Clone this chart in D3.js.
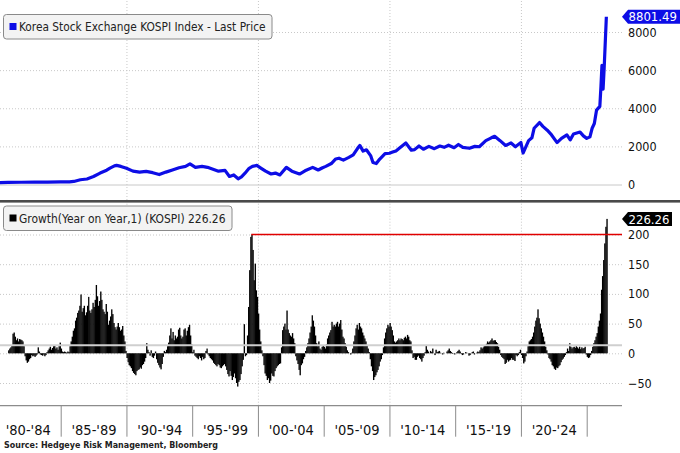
<!DOCTYPE html>
<html>
<head>
<meta charset="utf-8">
<script src="https://cdn.jsdelivr.net/npm/d3@7"></script>
<style>
  body { margin: 0; background: #fff; }
  svg { display: block; font-family: "DejaVu Sans Condensed", "DejaVu Sans", sans-serif; }
</style>
</head>
<body>
<script>
(function (d3) {
  "use strict";

  /***** Data *****/
  // KOSPI last price, [month, value]
  var kospiPrice = [
    ["1980-01", 100], ["1981-01", 108], ["1982-01", 118], ["1983-01", 122], ["1984-01", 125],
    ["1985-01", 140], ["1985-09", 138], ["1986-01", 160], ["1986-07", 250], ["1987-01", 290],
    ["1987-07", 420], ["1988-01", 600], ["1988-07", 750], ["1988-10", 860], ["1989-02", 980],
    ["1989-04", 1005], ["1989-08", 950], ["1990-01", 850], ["1990-07", 700], ["1991-01", 650],
    ["1991-07", 690], ["1992-01", 620], ["1992-07", 520], ["1993-01", 650], ["1993-07", 760],
    ["1994-01", 880], ["1994-07", 950], ["1994-11", 1080], ["1995-04", 900], ["1995-10", 950],
    ["1996-03", 900], ["1996-08", 800], ["1997-01", 700], ["1997-07", 740], ["1997-11", 420],
    ["1998-03", 500], ["1998-07", 300], ["1998-10", 400], ["1999-01", 580], ["1999-05", 850],
    ["1999-08", 950], ["1999-12", 1000], ["2000-04", 850], ["2000-08", 700], ["2001-01", 550],
    ["2001-05", 600], ["2001-09", 500], ["2002-03", 900], ["2002-08", 700], ["2003-03", 550],
    ["2003-08", 720], ["2004-03", 900], ["2004-08", 760], ["2004-12", 880], ["2005-03", 950],
    ["2005-08", 1100], ["2005-12", 1340], ["2006-03", 1380], ["2006-07", 1280], ["2006-12", 1420],
    ["2007-04", 1550], ["2007-08", 1900], ["2007-10", 2050], ["2008-01", 1750], ["2008-04", 1820],
    ["2008-08", 1500], ["2008-10", 1150], ["2009-01", 1100], ["2009-04", 1320], ["2009-09", 1620],
    ["2010-01", 1640], ["2010-04", 1700], ["2010-07", 1760], ["2010-10", 1900], ["2011-04", 2180],
    ["2011-09", 1800], ["2011-12", 1830], ["2012-04", 2020], ["2012-08", 1850], ["2013-01", 2000],
    ["2013-06", 1880], ["2013-11", 2020], ["2014-03", 1950], ["2014-07", 2060], ["2014-12", 1930],
    ["2015-04", 2100], ["2015-08", 1950], ["2016-02", 1900], ["2016-07", 2000], ["2016-11", 1980],
    ["2017-05", 2300], ["2017-10", 2450], ["2018-01", 2530], ["2018-06", 2300], ["2018-11", 2050],
    ["2019-04", 2180], ["2019-08", 1980], ["2020-01", 2200], ["2020-03", 1650], ["2020-08", 2300],
    ["2020-11", 2450], ["2021-01", 2950], ["2021-06", 3250], ["2021-09", 3050], ["2022-01", 2850],
    ["2022-05", 2600], ["2022-10", 2200], ["2023-02", 2420], ["2023-07", 2600], ["2023-10", 2340],
    ["2024-01", 2650], ["2024-07", 2750], ["2024-10", 2550], ["2025-01", 2420], ["2025-04", 2500],
    ["2025-06", 2950], ["2025-08", 3200], ["2025-10", 3900], ["2026-01", 4100], ["2026-02", 5150],
    ["2026-03", 6250], ["2026-04", 5000], ["2026-05", 6100], ["2026-07", 8801.49]
  ];

  // Growth (year on year, %), monthly from Jan 1981, one row per year
  var growthStart = "1981-01";
  var growthRows = [
    [5, 8, 10, 14, 33, 35, 28, 22, 25, 20, 24, 23],          // 1981
    [22, 20, 12, -5, -12, -16, -14, -10, -8, -3, -5, -4],
    [-6, -4, -2, 10, 3, -2, -3, -4, -2, -5, -3, 2],
    [5, 8, 11, 6, 9, 12, 14, 8, 10, 6, 12, 18],
    [8, 3, 2, 3, 2, 1, 3, 2, 12, 20, 28, 38],                // 1985
    [42, 55, 60, 68, 72, 80, 99, 70, 76, 80, 64, 69],
    [80, 95, 72, 68, 74, 85, 78, 90, 115, 96, 80, 88],
    [104, 90, 74, 70, 66, 83, 70, 48, 55, 62, 74, 66],
    [51, 44, 40, 45, 51, 44, 38, 40, 46, 30, 20, 4],
    [-8, -15, -20, -22, -25, -30, -33, -35, -37, -30, -28, -27], // 1990
    [-24, -26, -20, -18, -14, -8, 17, 6, 2, -4, 5, -6],
    [-8, -4, 3, -10, -16, -20, -24, -27, -18, -6, 4, 2],
    [6, 12, 18, 30, 42, 25, 36, 22, 30, 25, 28, 40],
    [43, 30, 25, 28, 40, 42, 30, 38, 44, 48, 30, 15],
    [2, 6, -4, -6, -8, -10, -5, -8, -12, -6, -10, -8],       // 1995
    [4, 8, -2, -5, -8, -10, -12, -16, -18, -20, -22, -18],
    [-20, -24, -25, -22, -20, -18, -22, -28, -35, -39, -30, -38],
    [-45, -40, -34, -42, -50, -56, -48, -45, -35, -22, -11, 49],
    [-5, -3, 30, 78, 140, 196, 200, 174, 123, 151, 106, 95],
    [67, 40, 20, 5, -5, -20, -34, -38, -45, -42, -50, -46],  // 2000
    [-34, -38, -39, -30, -25, -22, -20, -18, -17, 10, 39, 45],
    [50, 40, 72, 40, 34, 30, 28, 34, 25, 17, -5, -12],
    [-18, -28, -37, -20, -17, -10, -6, 4, 10, 17, 25, 35],
    [45, 64, 55, 45, 30, 17, 12, 20, 8, 6, 11, 14],
    [11, 8, 15, 25, 30, 35, 39, 53, 45, 48, 45, 50],         // 2005
    [53, 45, 50, 56, 40, 28, 25, 17, 11, 5, 2, 0],
    [-2, 1, 8, 20, 30, 42, 48, 40, 51, 45, 42, 35],
    [30, 25, 20, 14, 8, 2, -10, -22, -30, -45, -40, -37],
    [-32, -28, -22, -14, -10, -3, 10, 25, 35, 42, 48, 45],
    [51, 45, 39, 30, 20, 18, 20, 22, 25, 22, 25, 24],        // 2010
    [22, 26, 28, 25, 31, 28, 22, 20, 5, -8, -6, -11],
    [-11, -6, -4, -8, -10, -14, -8, -4, 2, 14, 6, 3],
    [0, 4, 2, 8, 0, -3, 6, 2, 3, 4, 1, 0],
    [-2, 1, 0, 0, 3, 5, 8, 4, 2, -1, 0, -2],
    [0, 2, 4, 6, 3, -1, -3, -2, 0, 2, 1, 0],                 // 2015
    [-4, -3, 0, 2, 3, -2, 0, 1, 3, 2, 5, 10],
    [8, 10, 12, 14, 16, 20, 18, 20, 22, 25, 21, 22],
    [22, 19, 17, 11, 6, -3, -6, -8, -10, -18, -16, -11],
    [-14, -12, -11, -8, -11, -11, -13, -3, -5, -3, 2, 6],
    [-3, -8, -17, -14, -5, 3, 12, 20, 22, 24, 28, 35],       // 2020
    [45, 55, 60, 74, 59, 50, 42, 35, 28, 20, 11, 5],
    [-2, -8, -10, -14, -20, -22, -26, -28, -24, -25, -22, -20],
    [-15, -11, -9, -6, -3, 2, 8, 4, 17, 11, 8, 10],
    [11, 9, 12, 10, 8, 11, 7, 10, 8, 9, 11, -2],
    [-6, -8, -7, -3, 4, 11, 17, 22, 28, 34, 45, 55],         // 2025
    [67, 107, 130, 157, 185, 213, 226.26]
  ];

  var growthAverage = 13.5;
  var growthHigh = 200;
  var growthHighFrom = "1999-07";

  var priceTicks = [0, 2000, 4000, 6000, 8000];
  var growthTicks = [-50, 0, 50, 100, 150, 200];
  var gridYears = [1990, 2000, 2010, 2020];
  var periodStarts = [1980, 1985, 1990, 1995, 2000, 2005, 2010, 2015, 2020, 2025];
  var periodLabels = ["'80-'84", "'85-'89", "'90-'94", "'95-'99", "'00-'04",
                      "'05-'09", "'10-'14", "'15-'19", "'20-'24"];

  var priceLegend = "Korea Stock Exchange KOSPI Index - Last Price";
  var growthLegend = "Growth(Year on Year,1) (KOSPI) 226.26";
  var sourceText = "Source: Hedgeye Risk Management, Bloomberg";

  /***** Configuration *****/
  var width = 680, height = 453;
  var plotRight = 622;
  var topPanel = { top: 0, bottom: 200 };
  var botPanel = { top: 203, bottom: 405.7 };
  var blue = "#0d0de6";

  var parseMonth = d3.timeParse("%Y-%m");
  var yearDate = function (y) { return new Date(y, 0, 1); };

  var priceData = kospiPrice.map(function (p) { return { date: parseMonth(p[0]), value: p[1] }; });
  var growthData = [];
  var g0 = parseMonth(growthStart);
  growthRows.forEach(function (row) {
    row.forEach(function (v) {
      growthData.push({ date: d3.timeMonth.offset(g0, growthData.length), value: v });
    });
  });

  /***** Scales *****/
  var x = d3.scaleTime().domain([yearDate(1985), yearDate(2025)]).range([60.7, 586.7]);
  var yTop = d3.scaleLinear().domain([0, 8000]).range([184.5, 32]);
  var yBot = d3.scaleLinear().domain([-50, 200]).range([383, 234.5]);

  var svg = d3.select("body").append("svg")
      .attr("width", width)
      .attr("height", height);

  svg.append("rect").attr("width", width).attr("height", height).attr("fill", "#fff");

  /***** Grid *****/
  function vGrid(panel) {
    svg.append("g")
        .attr("transform", "translate(0," + panel.bottom + ")")
        .call(d3.axisBottom(x).tickValues(gridYears.map(yearDate))
          .tickSize(-(panel.bottom - panel.top)).tickFormat(""))
        .call(function (g) { g.select(".domain").remove(); })
        .selectAll("line")
        .attr("stroke", "#c8c8c8")
        .attr("stroke-dasharray", "1,2");
  }
  vGrid(topPanel);
  vGrid(botPanel);

  function yAxis(scale, ticks, solidAt) {
    var g = svg.append("g")
        .attr("transform", "translate(" + plotRight + ",0)")
        .call(d3.axisRight(scale).tickValues(ticks).tickSize(-plotRight).tickPadding(6)
          .tickFormat(d3.format("d")));
    g.select(".domain").remove();
    g.selectAll("line")
        .attr("stroke", "#c8c8c8")
        .attr("stroke-dasharray", function (d) { return d === solidAt ? null : "1,2"; });
    g.selectAll("text")
        .attr("fill", "#111")
        .attr("font-size", "12.5px")
        .attr("font-family", "DejaVu Sans Condensed, DejaVu Sans, sans-serif");
    return g;
  }
  yAxis(yTop, priceTicks, 0);
  yAxis(yBot, growthTicks, null);

  /***** Top panel: price line *****/
  svg.append("path")
      .datum(priceData)
      .attr("fill", "none")
      .attr("stroke", blue)
      .attr("stroke-width", 3.2)
      .attr("stroke-linejoin", "round")
      .attr("d", d3.line().x(function (d) { return x(d.date); }).y(function (d) { return yTop(d.value); }));

  /***** Panel separator *****/
  svg.append("rect")
      .attr("x", 0).attr("y", topPanel.bottom)
      .attr("width", width).attr("height", 2.6)
      .attr("fill", "#4a4a4a");

  /***** Bottom panel: growth bars *****/
  svg.append("g").selectAll("rect")
      .data(growthData)
      .join("rect")
      .attr("x", function (d) { return x(d.date); })
      .attr("width", function (d) { return x(d3.timeMonth.offset(d.date, 1)) - x(d.date) + 0.25; })
      .attr("y", function (d) { return yBot(Math.max(0, d.value)); })
      .attr("height", function (d) { return Math.abs(yBot(d.value) - yBot(0)); })
      .attr("fill", "#000");

  svg.append("line")
      .attr("x1", 0).attr("x2", plotRight)
      .attr("y1", yBot(growthAverage)).attr("y2", yBot(growthAverage))
      .attr("stroke", "#cfcfcf").attr("stroke-width", 2);

  svg.append("line")
      .attr("x1", x(parseMonth(growthHighFrom))).attr("x2", plotRight)
      .attr("y1", yBot(growthHigh)).attr("y2", yBot(growthHigh))
      .attr("stroke", "#e00000").attr("stroke-width", 1.6);

  /***** X axis *****/
  var xAxisG = svg.append("g")
      .attr("transform", "translate(0," + botPanel.bottom + ")")
      .call(d3.axisBottom(x).tickValues(periodStarts.map(yearDate)).tickSize(31).tickFormat(""));
  xAxisG.select(".domain").remove();
  xAxisG.selectAll("line").attr("stroke", "#8c8c8c");
  svg.append("line")
      .attr("x1", 0).attr("x2", plotRight)
      .attr("y1", botPanel.bottom).attr("y2", botPanel.bottom)
      .attr("stroke", "#8c8c8c").attr("stroke-width", 1.2);

  var labelAxis = svg.append("g")
      .attr("transform", "translate(0," + botPanel.bottom + ")")
      .call(d3.axisBottom(x)
        .tickValues(periodLabels.map(function (l, i) { return new Date(periodStarts[i] + 2, 6, 1); }))
        .tickSize(0).tickPadding(19)
        .tickFormat(function (d, i) { return periodLabels[i]; }));
  labelAxis.select(".domain").remove();
  labelAxis.selectAll("text")
      .attr("fill", "#111")
      .attr("font-size", "14.5px")
      .attr("font-family", "DejaVu Sans Condensed, DejaVu Sans, sans-serif");

  /***** Last value tags *****/
  function valueTag(yPos, label, fill, right) {
    var h = 7;
    svg.append("path")
        .attr("d", "M" + plotRight + "," + yPos + "L" + (plotRight + 6) + "," + (yPos - h) +
          "H" + right + "V" + (yPos + h) + "H" + (plotRight + 6) + "Z")
        .attr("fill", fill);
    svg.append("text")
        .attr("x", plotRight + 6.5).attr("y", yPos)
        .attr("dy", "0.36em")
        .attr("fill", "#fff")
        .attr("font-size", "13px")
        .text(label);
  }
  var lastPrice = priceData[priceData.length - 1];
  var lastGrowth = growthData[growthData.length - 1];
  valueTag(yTop(lastPrice.value), d3.format(".2f")(lastPrice.value), blue, 680);
  valueTag(yBot(lastGrowth.value), d3.format(".2f")(lastGrowth.value), "#000", 672);

  /***** Legends *****/
  function legend(yPos, w, swatch, label, textW) {
    var g = svg.append("g").attr("transform", "translate(3," + yPos + ")");
    g.append("rect")
        .attr("x", 0.5).attr("y", 0.5).attr("width", w).attr("height", 24.5)
        .attr("rx", 3)
        .attr("fill", "#f3f3f3").attr("stroke", "#8a8a8a");
    g.append("rect")
        .attr("x", 6.5).attr("y", 9).attr("width", 7).attr("height", 7)
        .attr("fill", swatch);
    g.append("text")
        .attr("x", 16).attr("y", 12.8)
        .attr("dy", "0.36em")
        .attr("fill", "#222")
        .attr("font-size", "12.5px")
        .attr("textLength", textW)
        .attr("lengthAdjust", "spacingAndGlyphs")
        .text(label);
  }
  legend(14, 268.5, blue, priceLegend, 246.5);
  legend(205.5, 228.5, "#000", growthLegend, 206.5);

  /***** Source *****/
  svg.append("text")
      .attr("x", 4).attr("y", 448)
      .attr("fill", "#222")
      .attr("font-size", "9.5px")
      .attr("font-weight", "bold")
      .attr("textLength", 214)
      .attr("lengthAdjust", "spacingAndGlyphs")
      .text(sourceText);

})(d3);
</script>
</body>
</html>
